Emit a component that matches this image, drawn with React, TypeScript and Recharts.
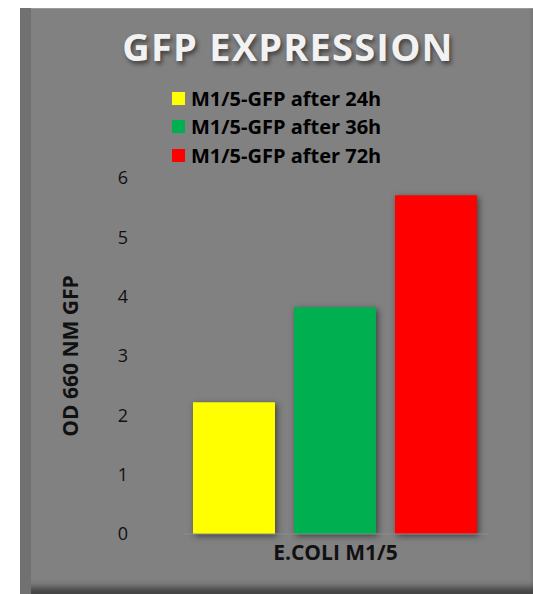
import { BarChart, Bar, XAxis, YAxis } from 'recharts';

const categories = ['E.COLI M1/5'];
const seriesNames = ['M1/5-GFP after 24h', 'M1/5-GFP after 36h', 'M1/5-GFP after 72h'];
const seriesColors = ['#ffff00', '#00b050', '#ff0000'];
const after24h = [2.22];
const after36h = [3.82];
const after72h = [5.71];
const yTicks = [0, 1, 2, 3, 4, 5, 6];

const seriesKeys = ['h24', 'h36', 'h72'];
const data = categories.map((name, i) => ({
  name,
  h24: after24h[i],
  h36: after36h[i],
  h72: after72h[i],
}));

const font = '"Open Sans", "DejaVu Sans", sans-serif';

function LegendBox() {
  return (
    <div
      style={{
        position: 'absolute',
        left: 152,
        top: 76,
        fontFamily: font,
        fontWeight: 700,
        fontSize: 20,
        color: '#000',
        whiteSpace: 'nowrap',
      }}
    >
      {seriesNames.map((n, i) => (
        <div key={n} style={{ display: 'flex', alignItems: 'center', height: 28.5 }}>
          <span
            style={{
              display: 'inline-block',
              width: 13,
              height: 13,
              background: seriesColors[i],
              marginRight: 6,
            }}
          />
          {n}
        </div>
      ))}
    </div>
  );
}

export default function App() {
  return (
    <div style={{ position: 'absolute', left: 0, top: 0, width: 533, height: 594, background: '#fff' }}>
      <style>{`.recharts-bar-rectangle path { filter: drop-shadow(2px 2px 3px rgba(0,0,0,0.5)); }`}</style>
      <div
        style={{
          position: 'absolute',
          left: 20,
          top: 8,
          width: 513,
          height: 586,
          background: '#818181',
          boxShadow: 'inset 11px 0 0 #717171, inset 0 -10px 6px -3px #454545, inset 0 1px 0 #9a9a9a',
        }}
      >
        <div
          style={{
            position: 'absolute',
            left: 0,
            top: 12,
            width: 536,
            textAlign: 'center',
            fontFamily: font,
            fontWeight: 700,
            fontSize: 38,
            letterSpacing: 1.2,
            color: '#f2f2f2',
            textShadow: '2px 3px 4px rgba(0,0,0,0.5)',
          }}
        >
          GFP EXPRESSION
        </div>
        <LegendBox />
        <BarChart
          width={513}
          height={586}
          data={data}
          margin={{ top: 170, right: 45, left: 43, bottom: 30 }}
          barCategoryGap={10}
          barGap={19}
          style={{ position: 'absolute', left: 0, top: 0 }}
        >
          <XAxis
            dataKey="name"
            axisLine={{ stroke: '#8c8c8c' }}
            tickLine={false}
            tickSize={0}
            tickMargin={11}
            height={30}
            tick={{ fill: '#111', fontSize: 21, fontWeight: 700, fontFamily: font }}
          />
          <YAxis
            domain={[0, 6]}
            ticks={yTicks}
            width={120}
            axisLine={false}
            tickLine={false}
            tickSize={0}
            tickMargin={55}
            tick={{ fill: '#111', fontSize: 18, fontFamily: font }}
            label={{
              content: ({ viewBox }: any) => {
                const cx = viewBox.x + 7;
                const cy = viewBox.y + viewBox.height / 2;
                return (
                  <text
                    x={cx}
                    y={cy}
                    transform={`rotate(-90, ${cx}, ${cy})`}
                    textAnchor="middle"
                    dominantBaseline="central"
                    fill="#111"
                    fontSize={21}
                    fontWeight={700}
                    fontFamily={font}
                  >
                    OD 660 NM GFP
                  </text>
                );
              },
            }}
          />
          {seriesKeys.map((k, i) => (
            <Bar key={k} dataKey={k} name={seriesNames[i]} fill={seriesColors[i]} isAnimationActive={false} />
          ))}
        </BarChart>
      </div>
    </div>
  );
}
